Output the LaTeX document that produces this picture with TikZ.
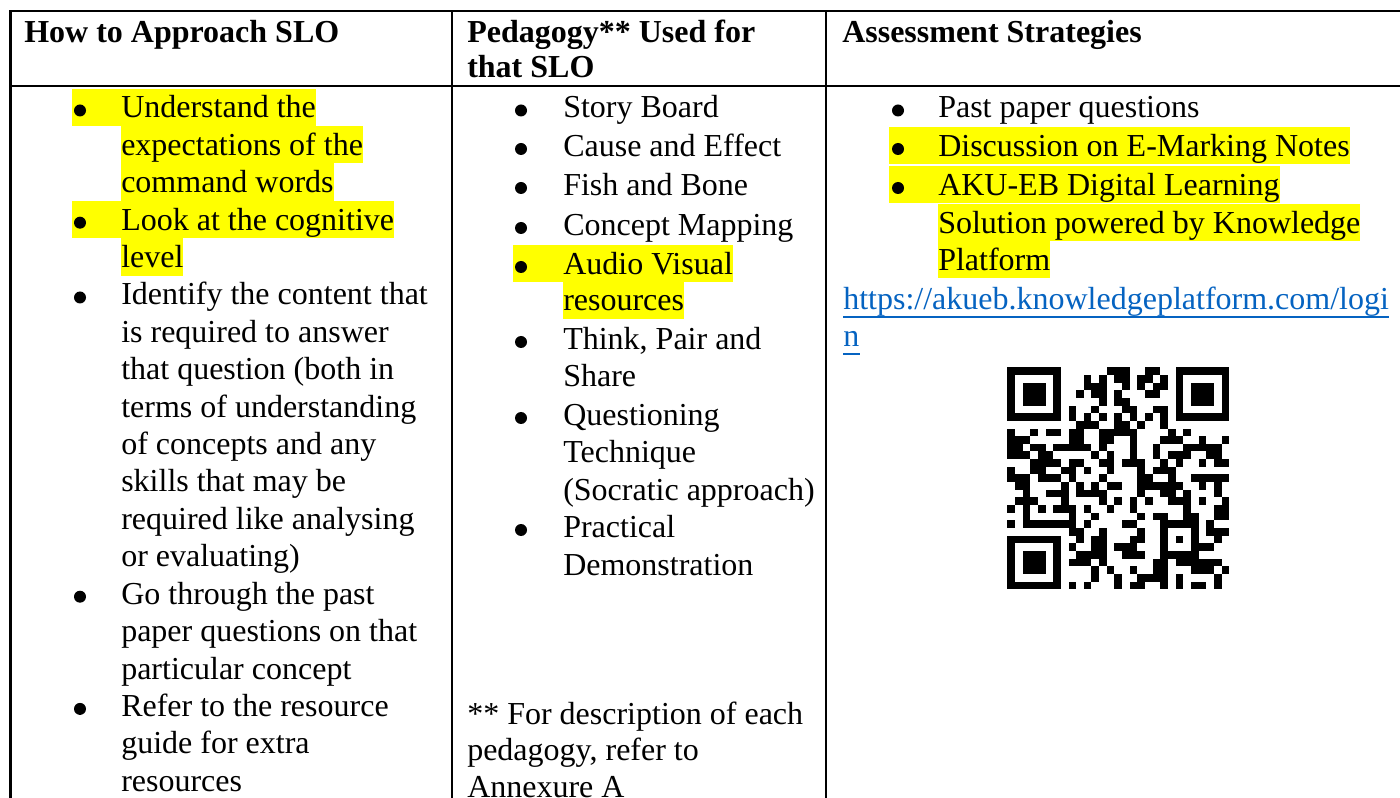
\documentclass[tikz,border=0pt]{standalone}
\usepackage{fontspec}
\setmainfont{Liberation Serif}
\usepackage{qrcode}
\definecolor{hl}{HTML}{FFFF00}
\definecolor{linkblue}{HTML}{0563C1}
\tikzset{
  body/.style={anchor=base west, inner sep=0pt, font=\fontsize{24pt}{28pt}\selectfont},
  head/.style={body, font=\fontsize{24pt}{28pt}\selectfont\bfseries},
  marked/.style={body, fill=hl, text height=22pt, text depth=6pt},
  link/.style={body, text=linkblue},
  bul/.style={circle, fill=black, inner sep=0pt, minimum size=9pt},
  rule/.style={line width=1.6pt, line cap=rect},
  hlbox/.style={fill=hl},
}
\begin{document}
\begin{tikzpicture}[x=0.75pt, y=-0.75pt]
\useasboundingbox (0,0) rectangle (1400,798);

% ---- table rules
\coordinate (tl) at (10.5,11.3);
\coordinate (tr) at (1400,11.3);
\coordinate (hl) at (10.5,86.3);
\coordinate (hr) at (1400,86.3);
\coordinate (c1t) at (451.7,11.3);
\coordinate (c1b) at (451.7,798);
\coordinate (c2t) at (826,11.3);
\coordinate (c2b) at (826,798);
\coordinate (bl) at (10.5,798);
\draw[rule] (tl) -- (tr);
\draw[rule] (hl) -- (hr);
\draw[rule] (tl) -- (bl);
\draw[rule] (c1t) -- (c1b);
\draw[rule] (c2t) -- (c2b);

% ---- header row
\node[head] (h1) at (24,42.5) {How to Approach SLO};
\node[head] (h2a) at (467,42.5) {Pedagogy** Used for};
\node[head] (h2b) at (467,77.5) {that SLO};
\node[head] (h3) at (842,42.5) {Assessment Strategies};

% ---- first column
\fill[hlbox] (72,88.67) rectangle (121,126);
\fill[hlbox] (72,200.87) rectangle (121,238.2);
\node[bul] (ba1) at (80,110.5) {};
\node[marked] (a1) at (121,118) {Understand the};
\node[marked] (a2) at (121,155.4) {expectations of the};
\node[marked] (a3) at (121,192.8) {command words};
\node[bul] (ba2) at (80,222.7) {};
\node[marked] (a4) at (121,230.2) {Look at the cognitive};
\node[marked] (a5) at (121,267.6) {level};
\node[bul] (ba3) at (80,297.5) {};
\node[body] (a6) at (121,305) {Identify the content that};
\node[body] (a7) at (121,342.4) {is required to answer};
\node[body] (a8) at (121,379.8) {that question (both in};
\node[body] (a9) at (121,417.2) {terms of understanding};
\node[body] (a10) at (121,454.6) {of concepts and any};
\node[body] (a11) at (121,492) {skills that may be};
\node[body] (a12) at (121,529.4) {required like analysing};
\node[body] (a13) at (121,566.8) {or evaluating)};
\node[bul] (ba4) at (80,596.7) {};
\node[body] (a14) at (121,604.2) {Go through the past};
\node[body] (a15) at (121,641.6) {paper questions on that};
\node[body] (a16) at (121,679) {particular concept};
\node[bul] (ba5) at (80,708.9) {};
\node[body] (a17) at (121,716.4) {Refer to the resource};
\node[body] (a18) at (121,753.8) {guide for extra};
\node[body] (a19) at (121,791.2) {resources};

% ---- second column
\node[bul] (bb1) at (521,110.5) {};
\node[body] (b1) at (563,118) {Story Board};
\node[bul] (bb2) at (521,149) {};
\node[body] (b2) at (563,156.5) {Cause and Effect};
\node[bul] (bb3) at (521,188) {};
\node[body] (b3) at (563,195.5) {Fish and Bone};
\node[bul] (bb4) at (521,228) {};
\node[body] (b4) at (563,235.5) {Concept Mapping};
\fill[hlbox] (513,245.17) rectangle (563,282.5);
\node[bul] (bb5) at (521,267) {};
\node[marked] (b5) at (563,274.5) {Audio Visual};
\node[marked] (b6) at (563,311) {resources};
\node[bul] (bb6) at (521,342) {};
\node[body] (b7) at (563,349.5) {Think, Pair and};
\node[body] (b8) at (563,386.5) {Share};
\node[bul] (bb7) at (521,418) {};
\node[body] (b9) at (563,425.5) {Questioning};
\node[body] (b10) at (563,462.5) {Technique};
\node[body] (b11) at (563,500.5) {(Socratic approach)};
\node[bul] (bb8) at (521,530) {};
\node[body] (b12) at (563,537.5) {Practical};
\node[body] (b13) at (563,575.5) {Demonstration};
\node[body] (f1) at (467,724) {** For description of each};
\node[body] (f2) at (467,760) {pedagogy, refer to};
\node[body] (f3) at (467,797) {Annexure A};

% ---- third column
\node[bul] (bc1) at (898,110.5) {};
\node[body] (c1) at (938,118) {Past paper questions};
\fill[hlbox] (889,127.17) rectangle (938,164.5);
\fill[hlbox] (889,166.17) rectangle (938,203.5);
\node[bul] (bc2) at (898,149) {};
\node[marked] (c2) at (938,156.5) {Discussion on E-Marking Notes};
\node[bul] (bc3) at (898,188) {};
\node[marked] (c3) at (938,195.5) {AKU-EB Digital Learning};
\node[marked] (c4) at (938,233.5) {Solution powered by Knowledge};
\node[marked] (c5) at (938,270.5) {Platform};
\node[link] (u1) at (843,310) {https://akueb.knowledgeplatform.com/logi};
\node[link] (u2) at (843,347) {n};
\draw[linkblue, line width=1.2pt] ([yshift=-5.25pt]u1.base west) -- ([yshift=-5.25pt]u1.base east);
\draw[linkblue, line width=1.2pt] ([yshift=-5.25pt]u2.base west) -- ([yshift=-5.25pt]u2.base east);

% ---- QR code for the login page
\node[anchor=north west, inner sep=0pt] (qr) at (1007,367)
  {\qrcode[height=166.5pt, level=M, version=3, nolink]{https://akueb.knowledgeplatform.com/login}};
\end{tikzpicture}
\end{document}
